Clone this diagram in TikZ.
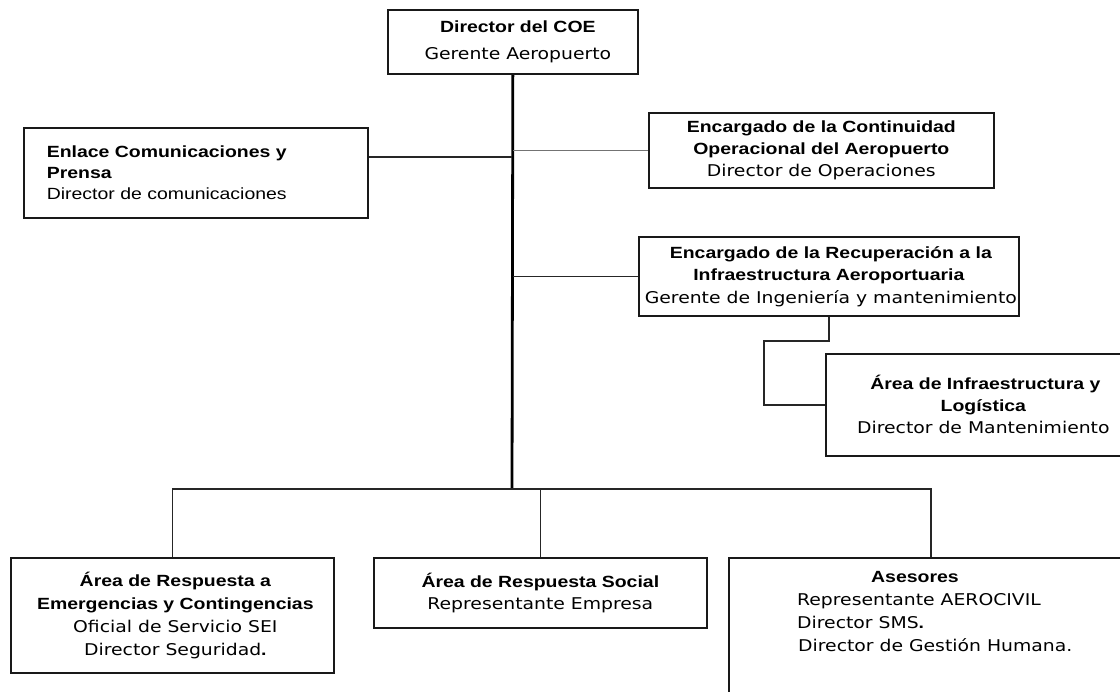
\documentclass[tikz,border=0pt]{standalone}
\usepackage{fontspec}
\setmainfont{DejaVu Sans}[FakeStretch=1.16]
\newfontfamily\arialf{Liberation Sans}[FakeStretch=1.2]
\usetikzlibrary{shadows,calc,backgrounds}
\newcommand\hb[1]{{\arialf\bfseries #1}}
\newcommand\ha[1]{{\arialf #1}}
\begin{document}
\begin{tikzpicture}[x=1pt,y=-1pt,
  box/.style={draw=black!90, line width=1.7pt, fill=white, rectangle, inner sep=0pt, align=center,
    drop shadow={shadow xshift=1.5pt, shadow yshift=-1.5pt, opacity=0.3, fill=black}},
  conn/.style={line width=1.5pt, draw=black!85},
  trunk/.style={line width=2.8pt, draw=black},
  font=\fontsize{16.2}{23}\selectfont]
\useasboundingbox (0,0) rectangle (1120,692);
\clip (0,0) rectangle (1120,692);

\node[box, minimum width=250pt, minimum height=64pt, anchor=north west] (dir) at (387,9)
  {\hspace*{10pt}\hb{Director del COE}\\[4pt]\hspace*{10pt}Gerente Aeropuerto};
\node[box, inner xsep=23pt, text width=298pt, minimum height=90pt, align=left, anchor=north west] (enl) at (23,127)
  {\hb{Enlace Comunicaciones y}\\[-2pt]\hb{Prensa}\\[-2pt]\ha{Director de comunicaciones}};
\node[box, minimum width=345pt, minimum height=75pt, anchor=north west] (cont) at (648,112)
  {\hb{Encargado de la Continuidad}\\[-1pt]\hb{Operacional del Aeropuerto}\\[-1pt]Director de Operaciones};
\node[box, minimum width=380pt, minimum height=79pt, anchor=north west] (rec) at (638,236)
  {\hspace*{4pt}\hb{Encargado de la Recuperación a la}\\[-1pt]\hb{Infraestructura Aeroportuaria}\\\hspace*{4pt}Gerente de Ingeniería y mantenimiento};
\node[box, minimum width=315pt, minimum height=102pt, anchor=north west] (inf) at (825,353)
  {\hspace*{4pt}\hb{Área de Infraestructura y}\\[-1pt]\hb{Logística}\\[-1pt]Director de Mantenimiento};
\node[box, minimum width=323pt, minimum height=115pt, anchor=north west] (resp) at (10,557)
  {\hspace*{6pt}\hb{Área de Respuesta a}\\\hspace*{6pt}\hb{Emergencias y Contingencias}\\\hspace*{6pt}Oficial de Servicio SEI\\\hspace*{6pt}Director Seguridad\hb{.}};
\node[box, minimum width=333pt, minimum height=70pt, anchor=north west] (soc) at (373,557)
  {\hb{Área de Respuesta Social}\\[-1pt]Representante Empresa};
\node[box, minimum width=404pt, minimum height=200pt, anchor=north west] (ase) at (728,557) {};
\node[anchor=north west, align=left, inner sep=0pt] (asetxt) at (797,571)
  {\hspace*{74pt}\hb{Asesores}\\Representante AEROCIVIL\\Director SMS\hb{.}\\\hspace*{1pt}Director de Gestión Humana.};

\coordinate (bus) at (512,489);
\coordinate (jE) at (512,157);
\coordinate (s1) at (764,341);
\begin{scope}[on background layer]
  \draw[trunk] (dir.south) -- (bus);
  \draw[conn] (jE) -- (jE -| enl.east);
  \draw[conn, draw=black!55, line width=1.6pt] (cont.west) -- (cont.west -| dir.south);
  \draw[conn] (rec.west) -- (rec.west -| dir.south);
  \draw[conn] (rec.south) |- (s1) |- (inf.west);
  \draw[conn] (resp.north) |- (bus) -| (ase.north);
  \draw[conn] (soc.north) -- (soc.north |- bus);
\end{scope}
\end{tikzpicture}
\end{document}
